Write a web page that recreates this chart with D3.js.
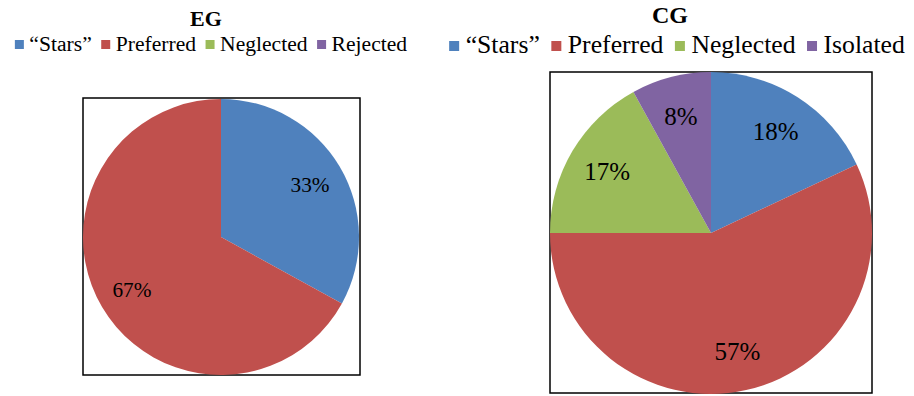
<!DOCTYPE html>
<html>
<head>
<meta charset="utf-8">
<script src="https://cdn.jsdelivr.net/npm/d3@7"></script>
<style>
  html, body { margin: 0; padding: 0; background: #fff; }
  svg { display: block; }
  svg text { font-family: "Liberation Serif", "Times New Roman", Tinos, "DejaVu Serif", serif; }
</style>
</head>
<body>
<svg id="chart" width="914" height="396"></svg>
<script>
// Sociometric status shares for the two groups
const egCategories = ["\u201cStars\u201d", "Preferred", "Neglected", "Rejected"];
const egValues = [33, 67, 0, 0];
const cgCategories = ["\u201cStars\u201d", "Preferred", "Neglected", "Isolated"];
const cgValues = [18, 57, 17, 8];
const sliceColors = ["#4F81BD", "#C0504D", "#9BBB59", "#8064A2"];

const FONT = "Liberation Serif, Times New Roman, serif";
const svg = d3.select("#chart");

const panels = [
  {
    title: "EG", categories: egCategories, values: egValues,
    titleX: 206, titleY: 26, titleSize: 22,
    legendCx: 211, legendY: 51, legendSize: 21.6, swatch: 9, padIn: 5.5, padOut: 9.5,
    box: { x0: 83, y0: 98, x1: 360, y1: 375 },
    cx: 221, cy: 237, r: 138, labelSize: 21.3
  },
  {
    title: "CG", categories: cgCategories, values: cgValues,
    titleX: 670, titleY: 23, titleSize: 24,
    legendCx: 677, legendY: 53, legendSize: 25.7, swatch: 10, padIn: 6.5, padOut: 11.5,
    box: { x0: 550, y0: 72, x1: 872, y1: 393 },
    cx: 711, cy: 233, r: 161, labelSize: 25
  }
];

const color = d3.scaleOrdinal().range(sliceColors);

panels.forEach(p => {
  const g = svg.append("g").attr("font-family", FONT);
  color.domain(p.categories);

  // Title
  g.append("text")
    .attr("x", p.titleX).attr("y", p.titleY)
    .attr("text-anchor", "middle")
    .attr("font-weight", "bold")
    .attr("font-size", p.titleSize)
    .text(p.title);

  // Legend: lay items out by measured text width, then centre the row
  const legend = g.append("g");
  let x = 0;
  p.categories.forEach((c, i) => {
    const item = legend.append("g").attr("transform", `translate(${x},0)`);
    item.append("rect")
      .attr("x", 0).attr("y", p.legendY - 2 - p.swatch)
      .attr("width", p.swatch).attr("height", p.swatch)
      .attr("fill", color(c));
    const t = item.append("text")
      .attr("x", p.swatch + p.padIn).attr("y", p.legendY)
      .attr("font-size", p.legendSize)
      .attr("fill", "#000")
      .text(c);
    const w = t.node().getComputedTextLength();
    x += p.swatch + p.padIn + w + (i < p.categories.length - 1 ? p.padOut : 0);
  });
  legend.attr("transform", `translate(${p.legendCx - x / 2},0)`);

  // Plot area frame
  g.append("rect")
    .attr("x", p.box.x0).attr("y", p.box.y0)
    .attr("width", p.box.x1 - p.box.x0).attr("height", p.box.y1 - p.box.y0)
    .attr("fill", "none").attr("stroke", "#000").attr("stroke-width", 1.5);

  // Pie, clockwise from 12 o'clock in category order
  const pie = d3.pie().sort(null).value(d => d.value);
  const data = pie(p.categories.map((c, i) => ({ cat: c, value: p.values[i] })));
  const arc = d3.arc().innerRadius(0).outerRadius(p.r);
  const labelArc = d3.arc().innerRadius(p.r * 0.75).outerRadius(p.r * 0.75);

  const pg = g.append("g").attr("transform", `translate(${p.cx},${p.cy})`);
  pg.selectAll("path")
    .data(data.filter(d => d.data.value > 0))
    .join("path")
    .attr("d", arc)
    .attr("fill", d => color(d.data.cat));

  pg.selectAll("text")
    .data(data.filter(d => d.data.value > 0))
    .join("text")
    .attr("transform", d => `translate(${labelArc.centroid(d)})`)
    .attr("text-anchor", "middle")
    .attr("dy", "0.35em")
    .attr("font-size", p.labelSize)
    .attr("fill", "#000")
    .text(d => d.data.value + "%");
});
</script>
</body>
</html>
